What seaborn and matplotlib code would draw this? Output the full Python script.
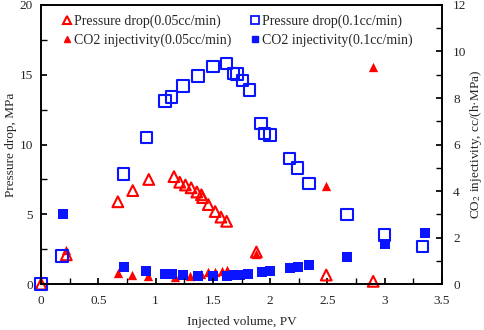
import matplotlib
matplotlib.use("Agg")
import matplotlib.pyplot as plt
from matplotlib.lines import Line2D
from matplotlib.ticker import MultipleLocator, FuncFormatter
import seaborn as sns
import pandas as pd

# ── data
# 0.05 cc/min : pressure drop (MPa)
pv_dp05 = [0, 0.22, 0.67, 0.80, 0.94, 1.16, 1.21, 1.26, 1.31, 1.36, 1.40, 1.41,
           1.46, 1.52, 1.57, 1.62, 1.88, 2.49, 2.90]
dp05 = [0, 2.1, 5.9, 6.7, 7.5, 7.7, 7.3, 7.1, 6.9, 6.6, 6.4, 6.2,
        5.7, 5.2, 4.8, 4.5, 2.3, 0.65, 0.2]
# 0.05 cc/min : CO2 injectivity (cc/(h·MPa))
pv_inj05 = [0.22, 0.67, 0.79, 0.93, 1.17, 1.30, 1.40, 1.46, 1.52, 1.58, 1.62,
            1.88, 2.49, 2.90]
inj05 = [1.45, 0.47, 0.39, 0.34, 0.30, 0.35, 0.45, 0.5, 0.52, 0.58, 0.6,
         1.3, 4.2, 9.35]
# 0.1 cc/min : pressure drop (MPa)
pv_01 = [0, 0.18, 0.72, 0.92, 1.08, 1.14, 1.24, 1.37, 1.50, 1.62, 1.68, 1.71,
         1.76, 1.82, 1.92, 1.95, 2.00, 2.17, 2.24, 2.34, 2.67, 3.00, 3.33]
dp01 = [0, 2.0, 7.9, 10.5, 13.1, 13.4, 14.2, 14.9, 15.6, 15.8, 15.1, 15.05,
        14.6, 13.9, 11.5, 10.8, 10.7, 9.0, 8.3, 7.2, 5.0, 3.5, 2.7]
# 0.1 cc/min : CO2 injectivity
pv_inj01 = [0.19, 0.72, 0.92, 1.08, 1.14, 1.24, 1.37, 1.50, 1.62, 1.68, 1.74,
            1.81, 1.93, 2.00, 2.17, 2.24, 2.34, 2.67, 3.00, 3.35]
inj01 = [3.0, 0.73, 0.56, 0.43, 0.43, 0.39, 0.34, 0.34, 0.34, 0.39, 0.39,
         0.43, 0.52, 0.56, 0.69, 0.73, 0.82, 1.16, 1.72, 2.19]

RED, BLUE = "#ff0000", "#0a14ff"
FS = 9.5      # ticks / axis labels
FS_LEG = 10   # legend

sns.set_theme(style="ticks")
plt.rcParams["font.family"] = ["Liberation Serif", "DejaVu Serif"]
plt.rcParams["mathtext.fontset"] = "stix"

fig = plt.figure(figsize=(4.84, 3.30), dpi=100)
ax = fig.add_axes([0.085, 0.139, 0.828, 0.846])
ax2 = ax.twinx()
# pressure-drop axes on top so the open markers sit over the filled ones
ax.set_zorder(ax2.get_zorder() + 1)
ax.patch.set_visible(False)

# ── injectivity (right axis, filled markers)
df = pd.DataFrame({"pv": pv_inj05, "v": inj05})
sns.scatterplot(data=df, x="pv", y="v", ax=ax2, marker="^", s=45,
                color=RED, edgecolor=RED, linewidth=0, clip_on=False)
df = pd.DataFrame({"pv": pv_inj01, "v": inj01})
sns.scatterplot(data=df, x="pv", y="v", ax=ax2, marker="s", s=50,
                color=BLUE, edgecolor=BLUE, linewidth=0, clip_on=False)

# ── pressure drop (left axis, open markers)
df = pd.DataFrame({"pv": pv_dp05, "v": dp05})
sns.scatterplot(data=df, x="pv", y="v", ax=ax, marker="^", s=60,
                facecolor="none", edgecolor=RED, linewidth=1.5, clip_on=False)
df = pd.DataFrame({"pv": pv_01, "v": dp01})
sns.scatterplot(data=df, x="pv", y="v", ax=ax, marker="s", s=70,
                facecolor="none", edgecolor=BLUE, linewidth=1.5, clip_on=False)

ax.set_xlim(0, 3.5)
ax.set_ylim(0, 20)
ax2.set_ylim(0, 12)
ax.xaxis.set_major_locator(MultipleLocator(0.5))
ax.xaxis.set_minor_locator(MultipleLocator(0.25))
ax.yaxis.set_major_locator(MultipleLocator(5))
ax.yaxis.set_minor_locator(MultipleLocator(2.5))
ax2.yaxis.set_major_locator(MultipleLocator(2))
ax2.yaxis.set_minor_locator(MultipleLocator(1))
ax.xaxis.set_major_formatter(FuncFormatter(lambda v, p: f"{v:g}"))

for a in (ax, ax2):
    a.tick_params(which="both", direction="in", labelsize=FS, color="black", length=4)
    for s in a.spines.values():
        s.set_linewidth(1.2)
        s.set_color("black")
ax.tick_params(axis="x", pad=8)
ax.tick_params(axis="y", pad=6)
ax2.tick_params(axis="y", pad=8)

ax.set_xlabel("Injected volume, PV", fontsize=FS, labelpad=6)
ax.set_ylabel("Pressure drop, MPa", fontsize=FS, labelpad=2)
ax2.set_ylabel("CO$_2$ injectivity, cc/(h·MPa)", fontsize=FS, labelpad=1)

handles = [
    Line2D([], [], ls="none", marker="^", ms=6, mfc="none", mec=RED, mew=1.5),
    Line2D([], [], ls="none", marker="^", ms=5, color=RED),
    Line2D([], [], ls="none", marker="s", ms=6, mfc="none", mec=BLUE, mew=1.3),
    Line2D([], [], ls="none", marker="s", ms=5, color=BLUE),
]
labels = ["Pressure drop(0.05cc/min)", "CO2 injectivity(0.05cc/min)",
          "Pressure drop(0.1cc/min)", "CO2 injectivity(0.1cc/min)"]
ax.legend(handles, labels, ncol=2, loc="upper left", bbox_to_anchor=(0.041, 0.987),
          frameon=False, fontsize=FS_LEG, handlelength=0.6, handletextpad=0.2,
          columnspacing=1.4, labelspacing=0.44, borderaxespad=0)

fig.savefig("out.png", dpi=100)
